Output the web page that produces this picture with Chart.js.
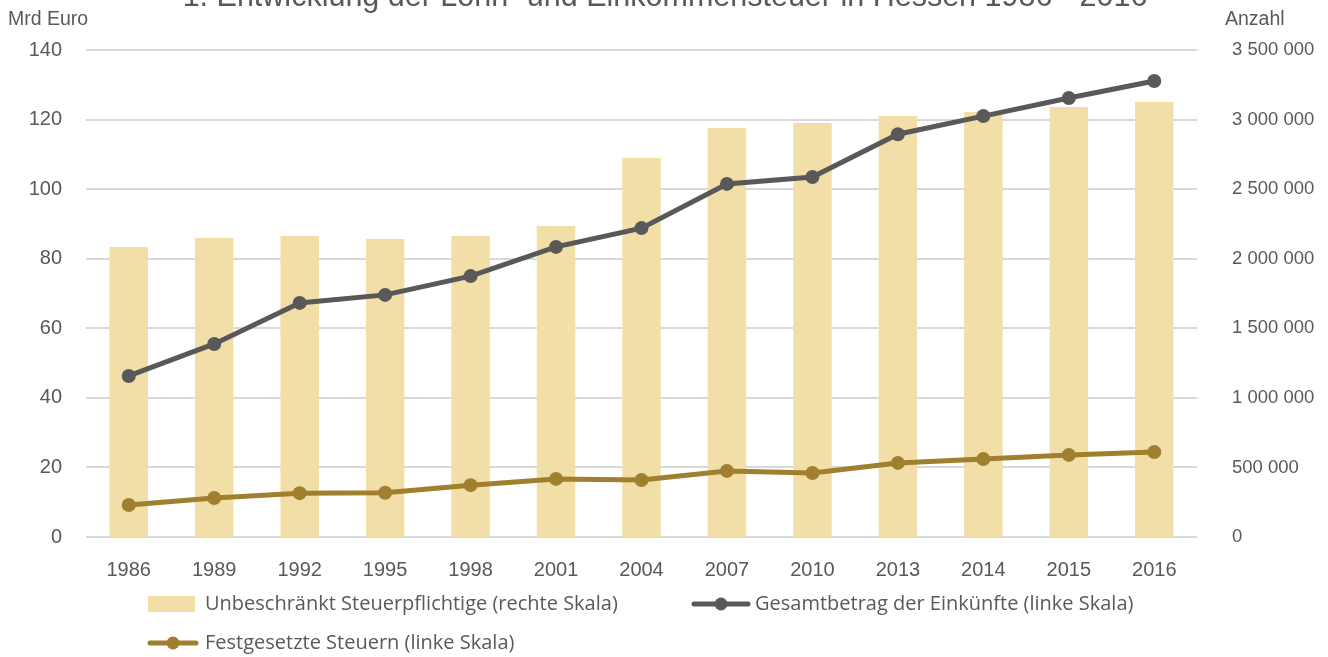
<!DOCTYPE html>
<html>
<head>
<meta charset="utf-8">
<script src="https://cdn.jsdelivr.net/npm/chart.js@4.4.0/dist/chart.umd.min.js"></script>
<style>
  html, body { margin: 0; padding: 0; background: #fff; }
  #wrap { width: 1328px; height: 657px; position: relative; }
</style>
</head>
<body>
<div id="wrap"><canvas id="chart" width="1328" height="657"></canvas></div>
<script>
const years = ['1986','1989','1992','1995','1998','2001','2004','2007','2010','2013','2014','2015','2016'];
const steuerpflichtige = [2084000, 2149000, 2163000, 2142000, 2163000, 2235000, 2724000, 2940000, 2975000, 3026000, 3054000, 3090000, 3126000];
const gesamtbetrag = [46.3, 55.5, 67.3, 69.6, 75.0, 83.4, 88.8, 101.5, 103.5, 115.8, 121.0, 126.2, 131.1];
const festgesetzt = [9.2, 11.2, 12.6, 12.7, 14.9, 16.7, 16.4, 19.0, 18.4, 21.3, 22.4, 23.6, 24.4];

const titleText = '1. Entwicklung der Lohn- und Einkommensteuer in Hessen 1986 - 2016';
const FONT = '"Liberation Sans", Arial, sans-serif';
const GREY = '#595959';

function fmtThousands(v) {
  return String(v).replace(/\B(?=(\d{3})+(?!\d))/g, ' ');
}

// title, axis titles and legend drawn by hand
const extras = {
  id: 'extras',
  afterDraw(chart) {
    const ctx = chart.ctx;
    ctx.save();
    ctx.fillStyle = GREY;
    ctx.textBaseline = 'alphabetic';
    ctx.font = '30.5px ' + FONT;
    ctx.textAlign = 'center';
    ctx.fillText(titleText, 665, 6);

    ctx.font = '19.5px ' + FONT;
    ctx.textAlign = 'left';
    ctx.fillText('Mrd Euro', 8, 25);
    ctx.fillText('Anzahl', 1225, 25);

    // legend
    const ds = chart.data.datasets;
    const items = [
      { d: ds[2], x: 148, y: 604 },
      { d: ds[0], x: 692, y: 604 },
      { d: ds[1], x: 148, y: 643 }
    ];
    ctx.font = '20px "Open Sans", ' + FONT;
    ctx.textBaseline = 'middle';
    items.forEach(it => {
      if (it.d.type === 'bar') {
        ctx.fillStyle = it.d.backgroundColor;
        ctx.fillRect(it.x, it.y - 8, 47, 16);
      } else {
        const w = it.x < 300 ? 48 : 56;
        ctx.strokeStyle = it.d.borderColor;
        ctx.lineWidth = 5;
        ctx.lineCap = 'round';
        ctx.beginPath();
        ctx.moveTo(it.x + 2, it.y);
        ctx.lineTo(it.x + w, it.y);
        ctx.stroke();
        ctx.fillStyle = it.d.borderColor;
        ctx.beginPath();
        ctx.arc(it.x + w / 2 + 1, it.y, 6.5, 0, Math.PI * 2);
        ctx.fill();
      }
      const tx = it.x < 300 ? 205 : 755;
      ctx.fillStyle = GREY;
      ctx.fillText(it.d.label, tx, it.y);
    });
    ctx.restore();
  }
};

new Chart(document.getElementById('chart'), {
  data: {
    labels: years,
    datasets: [
      {
        type: 'line',
        label: 'Gesamtbetrag der Einkünfte (linke Skala)',
        data: gesamtbetrag,
        yAxisID: 'y',
        borderColor: GREY,
        backgroundColor: GREY,
        borderWidth: 5,
        pointRadius: 7,
        pointBackgroundColor: GREY,
        pointBorderWidth: 0,
        order: 1
      },
      {
        type: 'line',
        label: 'Festgesetzte Steuern (linke Skala)',
        data: festgesetzt,
        yAxisID: 'y',
        borderColor: '#a07f2f',
        backgroundColor: '#a07f2f',
        borderWidth: 5,
        pointRadius: 7,
        pointBackgroundColor: '#a07f2f',
        pointBorderWidth: 0,
        order: 1
      },
      {
        type: 'bar',
        label: 'Unbeschränkt Steuerpflichtige (rechte Skala)',
        data: steuerpflichtige,
        yAxisID: 'y2',
        backgroundColor: '#f2dfa7',
        barPercentage: 0.45,
        categoryPercentage: 1,
        order: 2
      }
    ]
  },
  options: {
    responsive: false,
    animation: false,
    layout: { padding: { top: 50, bottom: 70, left: 0, right: 0 } },
    plugins: { legend: { display: false }, tooltip: { enabled: false } },
    scales: {
      x: {
        grid: { display: false },
        border: { display: false },
        ticks: { color: GREY, font: { size: 20, family: FONT }, padding: 13 },
        afterFit(s) { s.height = 50; }
      },
      y: {
        position: 'left',
        min: 0, max: 140,
        ticks: { stepSize: 20, color: GREY, font: { size: 20, family: FONT }, padding: 24 },
        grid: { color: '#d9d9d9', lineWidth: 2, drawTicks: false },
        border: { display: false },
        afterFit(s) { s.width = 86; }
      },
      y2: {
        position: 'right',
        min: 0, max: 3500000,
        ticks: { stepSize: 500000, color: GREY, font: { size: 18.5, family: FONT }, padding: 35,
                 callback: v => fmtThousands(v) },
        grid: { display: false, drawTicks: false },
        border: { display: false },
        afterFit(s) { s.width = 131; }
      }
    }
  },
  plugins: [extras]
});
</script>
</body>
</html>
